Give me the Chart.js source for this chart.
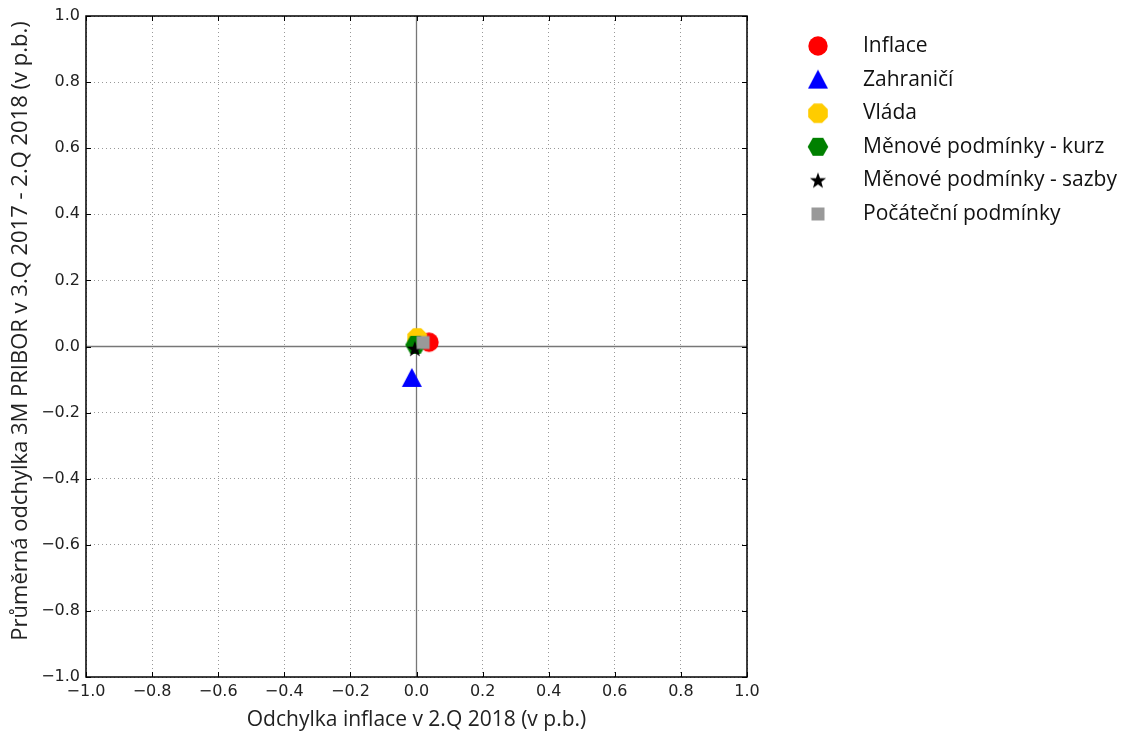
<!DOCTYPE html>
<html>
<head>
<meta charset="utf-8">
<script src="https://cdn.jsdelivr.net/npm/chart.js@4/dist/chart.umd.min.js"></script>
<style>
  html, body { margin: 0; padding: 0; background: #fff; }
  #wrap { width: 1127px; height: 736px; position: relative; }
</style>
</head>
<body>
<div id="wrap"><canvas id="chart" width="1127" height="736"></canvas></div>
<script>
// factor names, values
const seriesNames = ['Inflace', 'Zahraničí', 'Vláda', 'Měnové podmínky - kurz', 'Měnové podmínky - sazby', 'Počáteční podmínky'];
const inflationDev = [0.038, -0.014, 0.002, -0.003, -0.005, 0.020];
const priborDev = [0.013, -0.095, 0.026, 0.005, -0.007, 0.012];
const seriesColors = ['#ff0000', '#0000ff', '#ffcc00', '#008000', '#000000', '#999999'];
const seriesShapes = ['circle', 'triangle', 'octagon', 'hexagon', 'star', 'square'];

const axisMin = -1.0;
const axisMax = 1.0;
const axisStep = 0.2;

const xTitle = 'Odchylka inflace v 2.Q 2018 (v p.b.)';
const yTitle = 'Průměrná odchylka 3M PRIBOR v 3.Q 2017 - 2.Q 2018 (v p.b.)';

const textFont = '"Open Sans", Lato, sans-serif';

function polygon(ctx, cx, cy, r, n, rot) {
  ctx.beginPath();
  for (let i = 0; i < n; i++) {
    const a = rot + (i * 2 * Math.PI) / n;
    const px = cx + r * Math.cos(a);
    const py = cy + r * Math.sin(a);
    if (i === 0) ctx.moveTo(px, py); else ctx.lineTo(px, py);
  }
  ctx.closePath();
  ctx.fill();
}

function makeMarker(shape, color) {
  const size = 22;
  const c = document.createElement('canvas');
  c.width = size;
  c.height = size;
  const ctx = c.getContext('2d');
  const m = size / 2;
  ctx.fillStyle = color;
  if (shape === 'circle') {
    ctx.beginPath();
    ctx.arc(m, m, 9.7, 0, Math.PI * 2);
    ctx.fill();
  } else if (shape === 'triangle') {
    ctx.beginPath();
    ctx.moveTo(m, m - 10);
    ctx.lineTo(m + 10, m + 9);
    ctx.lineTo(m - 10, m + 9);
    ctx.closePath();
    ctx.fill();
  } else if (shape === 'octagon') {
    polygon(ctx, m, m, 10.6, 8, Math.PI / 8);
  } else if (shape === 'hexagon') {
    polygon(ctx, m, m, 10.3, 6, 0);
  } else if (shape === 'star') {
    ctx.beginPath();
    for (let i = 0; i < 10; i++) {
      const r = i % 2 === 0 ? 8.5 : 3.5;
      const a = -Math.PI / 2 + (i * Math.PI) / 5;
      const px = m + r * Math.cos(a);
      const py = m + 0.5 + r * Math.sin(a);
      if (i === 0) ctx.moveTo(px, py); else ctx.lineTo(px, py);
    }
    ctx.closePath();
    ctx.fill();
  } else {
    ctx.fillRect(m - 6.5, m - 6.5, 13, 13);
  }
  return c;
}

const markers = seriesShapes.map((s, i) => makeMarker(s, seriesColors[i]));

function fmtTick(v) {
  if (Math.abs(v) < 1e-9) v = 0;
  return v.toFixed(1).replace('-', '\u2212');
}

const framePlugin = {
  id: 'frame',
  beforeDatasetsDraw(chart) {
    const { ctx, chartArea: a, scales } = chart;
    const x0 = scales.x.getPixelForValue(0);
    const y0 = scales.y.getPixelForValue(0);
    ctx.save();
    ctx.strokeStyle = '#777';
    ctx.lineWidth = 1.3;
    ctx.beginPath();
    ctx.moveTo(x0, a.top);
    ctx.lineTo(x0, a.bottom);
    ctx.moveTo(a.left, y0);
    ctx.lineTo(a.right, y0);
    ctx.stroke();
    ctx.restore();
  },
  afterDraw(chart) {
    const { ctx, chartArea: a, scales } = chart;
    ctx.save();
    // inward ticks
    ctx.strokeStyle = '#000';
    ctx.lineWidth = 1;
    ctx.beginPath();
    scales.x.ticks.forEach((t) => {
      const px = Math.round(scales.x.getPixelForValue(t.value)) + 0.5;
      ctx.moveTo(px, a.bottom); ctx.lineTo(px, a.bottom - 5);
      ctx.moveTo(px, a.top); ctx.lineTo(px, a.top + 5);
    });
    scales.y.ticks.forEach((t) => {
      const py = Math.round(scales.y.getPixelForValue(t.value)) + 0.5;
      ctx.moveTo(a.left, py); ctx.lineTo(a.left + 5, py);
      ctx.moveTo(a.right, py); ctx.lineTo(a.right - 5, py);
    });
    ctx.stroke();
    ctx.lineWidth = 1.5;
    ctx.strokeRect(a.left, a.top, a.right - a.left, a.bottom - a.top);

    // y axis title, a little above the axis centre as in the original
    ctx.fillStyle = '#222';
    ctx.font = '22px ' + textFont;
    ctx.textAlign = 'center';
    ctx.textBaseline = 'middle';
    ctx.save();
    ctx.translate(21, 331);
    ctx.rotate(-Math.PI / 2);
    ctx.fillText(yTitle, 0, 0);
    ctx.restore();

    // legend
    ctx.font = '21px ' + textFont;
    ctx.fillStyle = '#111';
    ctx.textAlign = 'left';
    seriesNames.forEach((name, i) => {
      const y = 46 + i * 33.6;
      ctx.drawImage(markers[i], 818 - 11, y - 11);
      ctx.fillText(name, 863, y);
    });
    ctx.restore();
  }
};

const datasets = seriesNames.map((name, i) => ({
  label: name,
  data: [{ x: inflationDev[i], y: priborDev[i] }],
  pointStyle: markers[i],
  backgroundColor: seriesColors[i],
  borderColor: seriesColors[i],
  order: seriesNames.length - i
}));

const tickFont = { family: '"DejaVu Sans"', size: 16 };

new Chart(document.getElementById('chart'), {
  type: 'scatter',
  data: { datasets },
  options: {
    responsive: false,
    animation: false,
    layout: { padding: { top: 16, right: 380, left: 0, bottom: 0 } },
    plugins: { legend: { display: false }, tooltip: { enabled: false } },
    scales: {
      x: {
        min: axisMin,
        max: axisMax,
        ticks: { stepSize: axisStep, font: tickFont, color: '#222', padding: 5, maxRotation: 0, callback: fmtTick },
        grid: { color: '#999', drawTicks: false },
        border: { display: false, dash: [1, 3] },
        title: { display: true, text: xTitle, font: { family: textFont, size: 21 }, color: '#222', padding: { top: 0, bottom: 3 } },
        afterFit(scale) { scale.height = 59; }
      },
      y: {
        min: axisMin,
        max: axisMax,
        ticks: { stepSize: axisStep, font: tickFont, color: '#222', padding: 6, callback: fmtTick },
        grid: { color: '#999', drawTicks: false },
        border: { display: false, dash: [1, 3] },
        afterFit(scale) { scale.width = 86; }
      }
    }
  },
  plugins: [framePlugin]
});
</script>
</body>
</html>
